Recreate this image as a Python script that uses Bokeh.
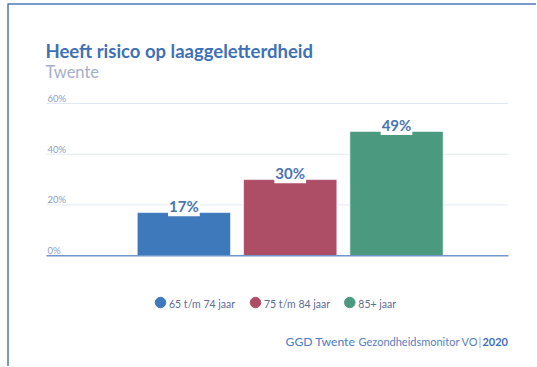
from bokeh.plotting import figure
from bokeh.models import ColumnDataSource, Range1d
from bokeh.core.properties import value
from bokeh.embed import file_html
from bokeh.resources import INLINE

# ---- data ----
categories = ["65 t/m 74 jaar", "75 t/m 84 jaar", "85+ jaar"]
values = [17, 30, 49]
value_labels = ["17%", "30%", "49%"]
colors = ["#3e79bb", "#ae4e66", "#4b9a7f"]
y_ticks = [0, 20, 40, 60]
y_tick_labels = ["0%", "20%", "40%", "60%"]

title_text = "Heeft risico op laaggeletterdheid"
subtitle_text = "Twente"
footer_org = "GGD Twente"
footer_src = "Gezondheidsmonitor VO"
footer_sep = "|"
footer_year = "2020"

# ---- layout (pixels) ----
W, H = 536, 366
X0, XS = 183.4, 106.3      # px of category 0, px per category step
Y0, YS = 255.2, 2.537      # px of 0 %, px per percent
PLOT_L, PLOT_R = 46, 508
LEGEND_CX = [160, 255, 349.3]   # legend marker centres (px)
LEGEND_Y = 302
FONT = value("Lato")

def dx(px):
    return (px - X0) / XS

def dy(py):
    return (Y0 - py) / YS

p = figure(width=W, height=H, output_backend="svg", toolbar_location=None,
           x_range=Range1d(dx(0), dx(W)), y_range=Range1d(dy(H), dy(0)),
           min_border=0)
p.xaxis.visible = False
p.yaxis.visible = False
p.xgrid.visible = False
p.ygrid.visible = False
p.outline_line_color = None
p.title.visible = False

# frame decoration (top-left border of the card)
p.line(x=[dx(7.5), dx(7.5), dx(W)], y=[dy(H), dy(3.5), dy(3.5)],
       line_color="#4a7ab8", line_width=1.5, line_join="round")

# grid lines
grid_src = ColumnDataSource(dict(x0=[dx(PLOT_L)] * 3, x1=[dx(PLOT_R)] * 3, y=y_ticks[1:]))
p.segment(x0="x0", x1="x1", y0="y", y1="y", source=grid_src,
          line_color="#e2e8f1", line_width=1)

idx = list(range(len(categories)))
src = ColumnDataSource(dict(x=idx, top=values, color=colors, label=value_labels))

p.vbar(x="x", top="top", bottom=0, width=93.3 / XS, fill_color="color",
       line_color="white", line_alpha=0.6, line_width=1, source=src)

# baseline
p.segment(x0=[dx(PLOT_L)], x1=[dx(PLOT_R)], y0=[0], y1=[0],
          line_color="#7097cd", line_width=1.5)

# y tick labels
tick_src = ColumnDataSource(dict(x=[dx(PLOT_L + 1)] * len(y_ticks), y=y_ticks, t=y_tick_labels))
p.text(x="x", y="y", text="t", source=tick_src, y_offset=-5,
       text_font=FONT, text_font_size="9.5px", text_color="#8e9dc5",
       text_baseline="alphabetic", text_align="left")

# value labels
p.text(x="x", y="top", text="label", source=src, text_align="center",
       text_baseline="alphabetic", y_offset=-6.4, text_font=FONT, text_font_size="15px",
       text_font_style="bold", text_color="#4b74b5",
       background_fill_color="white", padding=1)

# titles and footer
def txt(t, px, py, size, color, style="normal", align="left"):
    p.text(x=[dx(px)], y=[dy(py)], text=[t], text_font=FONT, text_font_size=size,
           text_color=color, text_font_style=style, text_align=align,
           text_baseline="alphabetic")

txt(title_text, 45, 50.4, "18.5px", "#3f71b6", "bold")
txt(subtitle_text, 45, 71.8, "16.5px", "#a6aec8")
txt(footer_org, 285, 341, "12.2px", "#4a7cc4")
txt(footer_src, 358, 341.3, "11px", "#5a80c0")
txt(footer_sep, 479.5, 341.3, "11px", "#8fa3cc", "normal", "center")
txt(footer_year, 507.5, 341.3, "11px", "#3f6fb8", "bold", "right")

# legend (markers + labels)
leg_src = ColumnDataSource(dict(x=[dx(c) for c in LEGEND_CX], y=[dy(LEGEND_Y)] * 3,
                                tx=[dx(c + 8.5) for c in LEGEND_CX], ty=[dy(LEGEND_Y + 1.4)] * 3,
                                color=colors, label=categories))
p.scatter(x="x", y="y", size=10.5, marker="circle", fill_color="color",
          line_color="color", source=leg_src)
p.text(x="tx", y="ty", text="label", source=leg_src, text_font=FONT,
       text_font_size="10.5px", text_color="#5d6c98", text_baseline="alphabetic",
       text_align="left")

open("out.html", "w").write(file_html(p, INLINE))
